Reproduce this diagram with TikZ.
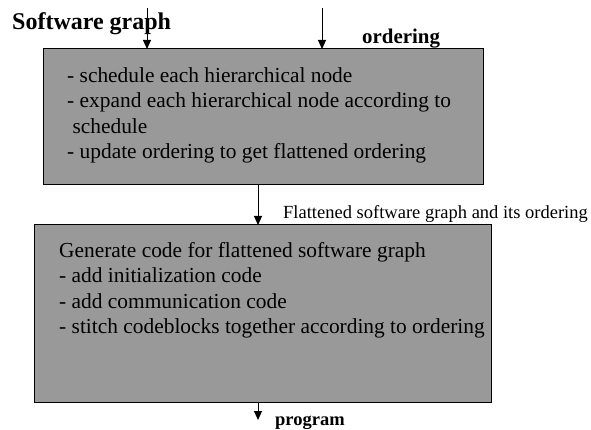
\documentclass[tikz,border=0pt]{standalone}
\usepackage{fontspec}
\setmainfont{Liberation Serif}
\usetikzlibrary{arrows.meta}
\definecolor{boxgray}{RGB}{153,153,153}
\tikzset{
  procbox/.style={draw=black, line width=1pt, fill=boxgray, inner sep=0pt, outer sep=0pt},
  boxtext/.style={anchor=north west, align=left, inner sep=0pt, font=\fontsize{21.4}{25.5}\selectfont},
  flow/.style={line width=1pt, -{Triangle[length=9pt,width=8pt]}},
  lbl/.style={inner sep=0pt, anchor=base west},
}
\begin{document}
\begin{tikzpicture}[x=1pt,y=-1pt]
\useasboundingbox (0,0) rectangle (591,430);
% boxes
\node[procbox, minimum width=440pt, minimum height=136pt, anchor=north west] (top) at (43,49) {};
\node[procbox, minimum width=457pt, minimum height=177pt, anchor=north west] (bot) at (34,225) {};
% texts
\node[boxtext] (toptext) at (67,67) {- schedule each hierarchical node\\- expand each hierarchical node according to\\\ schedule\\- update ordering to get flattened ordering};
\node[boxtext] (bottext) at (59,242) {Generate code for flattened software graph\\- add initialization code\\- add communication code\\- stitch codeblocks together according to ordering};
% labels
\node[lbl, font=\fontsize{24}{28}\selectfont\bfseries] (title) at (12,30) {Software graph};
\node[lbl, font=\fontsize{20.9}{24}\selectfont\bfseries] (ord) at (362,44) {ordering};
\node[lbl, font=\fontsize{18.5}{22}\selectfont] (flat) at (283,219) {Flattened software graph and its ordering};
\node[lbl, font=\fontsize{18.5}{22}\selectfont\bfseries] (prog) at (275,425) {program};
% connectors
\coordinate (in1) at (147,8);
\coordinate (in2) at (322,8);
\coordinate (out) at (258,420);
\draw[flow] (in1) -- (in1 |- top.north);
\draw[flow] (in2) -- (in2 |- top.north);
\draw[flow] (top.south -| out) -- (bot.north -| out);
\draw[flow] (bot.south -| out) -- (out);
\end{tikzpicture}
\end{document}
